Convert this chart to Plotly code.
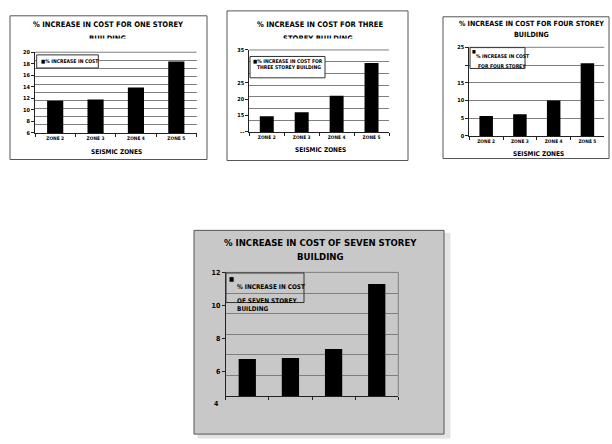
import plotly.graph_objects as go

W, H = 612, 444

# ---- data -------------------------------------------------------------
zones = ["ZONE 2", "ZONE 3", "ZONE 4", "ZONE 5"]

one_storey = [11.6, 11.8, 13.9, 18.4]
three_storey = [14.8, 16.0, 21.0, 31.0]
four_storey = [5.6, 6.1, 10.0, 20.5]
seven_storey = [6.75, 6.8, 7.35, 11.3]

one_ticks = [6, 8, 10, 12, 14, 16, 18, 20]
one_ticktext = ["6", "8", "10", "12", "14", "16", "18", "20"]
three_ticks = [10, 15, 20, 25, 35]
three_ticktext = ["--", "15", "20", "25", "35"]
four_ticks = [0, 5, 10, 15, 20, 25]
four_ticktext = ["0", "5", "10", "15", "", "25"]
seven_ticks = [6, 8, 10, 12]
seven_ticktext = ["6", "8", "10", "12"]
seven_low_tick = 4
seven_low_ticktext = "4"

x_title = "SEISMIC ZONES"

titles = [
    ["% INCREASE IN COST FOR ONE STOREY", "BUILDING"],
    ["% INCREASE IN COST FOR THREE", "STOREY BUILDING"],
    ["% INCREASE IN COST FOR FOUR STOREY", "BUILDING"],
    ["% INCREASE IN COST OF SEVEN STOREY", "BUILDING"],
]
legend_lines = [
    ["% INCREASE IN COST"],
    ["% INCREASE IN COST FOR", "THREE STOREY BUILDING"],
    ["% INCREASE IN COST", "FOR FOUR STOREY"],
    ["% INCREASE IN COST", "OF SEVEN STOREY", "BUILDING"],
]

# ---- helpers ----------------------------------------------------------
FONT = "Liberation Sans Narrow, Arial Narrow, DejaVu Sans Condensed, Liberation Sans, Arial, sans-serif"
GRID = "#7f7f7f"
PANEL_GRAY = "#c8c8c8"


def fx(x):
    return x / W


def fy(y):
    return 1 - y / H


shapes = []
annotations = []


def text(t, x, y, size, xanchor="center", bold=True, **kw):
    annotations.append(dict(
        text=t, x=fx(x), y=fy(y), xref="paper", yref="paper",
        xanchor=xanchor, yanchor="middle", showarrow=False,
        font=dict(family=FONT, size=size, color="black",
                  weight="bold" if bold else "normal"),
        **kw,
    ))


def rect(x0, x1, y0, y1, fill, line, width=1, layer="below"):
    shapes.append(dict(
        type="rect", xref="paper", yref="paper",
        x0=fx(x0), x1=fx(x1), y0=fy(y1), y1=fy(y0),
        fillcolor=fill, line=dict(color=line, width=width), layer=layer,
    ))


def line(x0, x1, y0, y1, color, layer="above"):
    shapes.append(dict(
        type="line", xref="paper", yref="paper",
        x0=fx(x0), x1=fx(x1), y0=fy(y0), y1=fy(y1),
        line=dict(color=color, width=1), layer=layer,
    ))


def mask(x0, x1, y0, y1, color="white"):
    # blank box laid over the lower half of a title line
    annotations.append(dict(
        text=" ", x=fx((x0 + x1) / 2), y=fy((y0 + y1) / 2),
        xref="paper", yref="paper", xanchor="center", yanchor="middle",
        width=x1 - x0, height=y1 - y0, bgcolor=color, borderpad=0,
        showarrow=False, font=dict(size=2),
    ))


fig = go.Figure()

panels = [
    dict(vals=one_storey, plot=(35, 196.5, 49, 131), frame=(10, 207, 12, 158),
         rng=[6, 20], tickvals=one_ticks, ticktext=one_ticktext,
         grid=dict(tick0=6, dtick=1.4), show_x=True),
    dict(vals=three_storey, plot=(249.3, 389, 46.7, 130), frame=(227, 408, 7, 159),
         rng=[10, 35], tickvals=three_ticks, ticktext=three_ticktext,
         grid=dict(tick0=10, dtick=25 / 7), show_x=True),
    dict(vals=four_storey, plot=(469.3, 604.3, 44, 134), frame=(443, 609, 13, 157),
         rng=[0, 25], tickvals=four_ticks, ticktext=four_ticktext,
         grid=dict(tick0=0, dtick=5), show_x=True),
    dict(vals=seven_storey, plot=(225.7, 398.3, 272.7, 398.3), frame=(194, 444, 230, 437),
         rng=[4.5, 12], tickvals=seven_ticks, ticktext=seven_ticktext,
         grid=dict(tick0=4.5, dtick=1.25), show_x=False),
]

layout_axes = {}
for i, p in enumerate(panels, start=1):
    sfx = "" if i == 1 else str(i)
    x0, x1, y0, y1 = p["plot"]
    big = i == 4
    fig.add_trace(go.Bar(
        x=zones, y=p["vals"], xaxis="x" + sfx, yaxis="y" + sfx,
        marker=dict(color="black", line=dict(width=0)),
        showlegend=False, hoverinfo="skip",
    ))
    layout_axes["xaxis" + sfx] = dict(
        domain=[fx(x0), fx(x1)], anchor="y" + sfx, type="category",
        showline=True, linecolor="#222", linewidth=1,
        ticks="outside", ticklen=3, tickcolor="#222", tickson="boundaries",
        showticklabels=p["show_x"], showgrid=False, zeroline=False,
        tickfont=dict(family=FONT, size=4.8, color="black", weight="bold"),
        fixedrange=True,
    )
    layout_axes["yaxis" + sfx] = dict(
        domain=[fy(y1), fy(y0)], anchor="x" + sfx, range=p["rng"],
        tickmode="array", tickvals=p["tickvals"], ticktext=p["ticktext"],
        showline=True, linecolor="#222", linewidth=1,
        ticks="outside", ticklen=3, tickcolor="#222",
        showgrid=False, zeroline=False,
        minor=dict(tick0=p["grid"]["tick0"], dtick=p["grid"]["dtick"],
                   showgrid=True, gridcolor=GRID, gridwidth=1, ticks=""),
        tickfont=dict(family=FONT, size=7 if big else 5.5, color="black", weight="bold"),
        fixedrange=True,
    )
    # chart frame
    fx0, fx1, fy0, fy1 = p["frame"]
    if big:
        rect(fx0 + 4, fx1 + 6, fy0 + 3, fy1 + 4, "#e4e4e4", "#e4e4e4")
        rect(fx0, fx1, fy0, fy1, PANEL_GRAY, "#555555")
    else:
        rect(fx0, fx1, fy0, fy1, "white", "#555555")
    # top (and for the grey chart, right) edge of the plotting area
    line(x0, x1, y0, y0, GRID)
    if big:
        line(x1, x1, y0, y1, GRID)

# titles
text(titles[0][0], 108.7, 21, 7.6)
text(titles[0][1], 108, 35, 7.6)
mask(80, 136, 35.6, 41)
text(titles[1][0], 320, 20.7, 7.6)
text(titles[1][1], 318, 35, 7.6)
mask(280, 358, 35.6, 41)
text(titles[2][0], 531, 19.5, 7.1)
text(titles[2][1], 531, 30.5, 7.1)
text(titles[3][0], 320, 242.3, 9.5)
text(titles[3][1], 320, 256.7, 9.5)

# x-axis titles
text(x_title, 116.7, 150, 6.5)
text(x_title, 320, 148.3, 6.5)
text(x_title, 538, 152, 6.5)

# legends
rect(36.7, 98.3, 51.7, 65, "white", "#333333", layer="above")
text("■" + legend_lines[0][0], 38.5, 58.3, 5, xanchor="left")

rect(250, 325, 53.3, 75, "white", "#333333", layer="above")
text("■" + legend_lines[1][0], 288, 57.7, 5)
text(legend_lines[1][1], 289, 64, 5)

rect(470, 525, 44.3, 65.5, "white", "#333333", layer="above")
text("■", 473.5, 48.3, 4.5)
text(legend_lines[2][0], 474, 53, 5, xanchor="left")
text(legend_lines[2][1], 476, 63, 5, xanchor="left")

rect(226, 304, 273.3, 303.3, "rgba(0,0,0,0)", "#333333", layer="above")
text("■", 231.7, 279, 6)
text(legend_lines[3][0], 235, 287.7, 6.4, xanchor="left")
text(legend_lines[3][1], 235, 301.7, 6.4, xanchor="left")
text(legend_lines[3][2], 235, 310, 6.4, xanchor="left")

# lowest value label of the seven storey chart sits below its axis line,
# placed on the same value scale as the axis
lo, hi = panels[3]["rng"]
annotations.append(dict(
    text=seven_low_ticktext, x=0, y=(seven_low_tick - lo) / (hi - lo),
    xref="x4 domain", yref="y4 domain",
    xanchor="right", yanchor="middle", xshift=-5, showarrow=False,
    font=dict(family=FONT, size=7, color="black", weight="bold"),
))

fig.update_layout(
    width=W, height=H, margin=dict(l=0, r=0, t=0, b=0),
    paper_bgcolor="white", plot_bgcolor="rgba(0,0,0,0)",
    bargap=0.6, showlegend=False,
    shapes=shapes, annotations=annotations,
    **layout_axes,
)

fig.write_html("out.html", config=dict(displayModeBar=False))
